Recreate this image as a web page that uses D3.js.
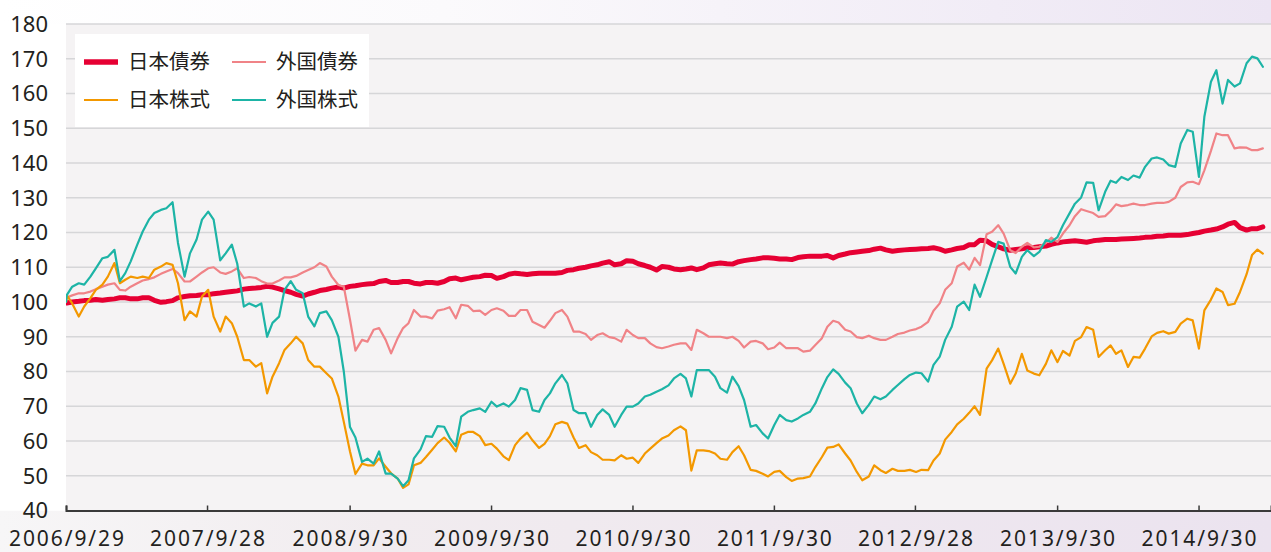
<!DOCTYPE html>
<html>
<head>
<meta charset="utf-8">
<script src="https://cdn.jsdelivr.net/npm/d3@7"></script>
<style>
  html, body { margin: 0; padding: 0; background: #fff; }
  svg { display: block; }
</style>
</head>
<body>
<svg id="chart" width="1271" height="552"></svg>
<script>
// ---------- data ----------
const seriesNames = ["日本債券", "外国債券", "日本株式", "外国株式"];
const startDate = "2006-09-29";
const endDate = "2015-04-03";
const tickLabels = ["2006/9/29", "2007/9/28", "2008/9/30", "2009/9/30", "2010/9/30",
                    "2011/9/30", "2012/9/28", "2013/9/30", "2014/9/30"];
const yTicks = [40, 50, 60, 70, 80, 90, 100, 110, 120, 130, 140, 150, 160, 170, 180];

// semi-monthly observations (start, 15th/1st of each month, end)
const jpBond = [
  100, 99.7, 100, 100.2, 100.4, 100.5,
  100.7, 100.5, 100.7, 100.9, 101.2, 101.2, 100.9, 100.9, 101.2, 101.2, 100.5, 99.9, 100.1, 100.4, 101.2, 101.6, 101.8, 101.9, 102.1, 102.1, 102.4, 102.6, 102.8, 103,
  103.2, 103.7, 103.9, 104, 104.2, 104.5, 104.3, 103.8, 103.3, 102.8, 102.2, 101.7, 102.3, 102.8, 103.3, 103.6, 104, 104.3, 104, 104.5, 104.7, 105, 105.2, 105.3,
  105.9, 106.2, 105.6, 105.6, 105.9, 105.9, 105.4, 105.2, 105.6, 105.6, 105.4, 105.9, 106.7, 106.9, 106.4, 106.8, 107.1, 107.3, 107.7, 107.6, 106.8, 107.3, 108, 108.3,
  108.1, 107.9, 108.1, 108.3, 108.3, 108.3, 108.3, 108.5, 109.1, 109.3, 109.7, 110, 110.4, 110.7, 111.2, 111.6, 110.7, 111, 111.9, 111.7, 111, 110.5, 110, 109.2,
  110.2, 110, 109.5, 109.3, 109.5, 109.8, 109.3, 109.8, 110.7, 111, 111.2, 111, 110.9, 111.6, 111.9, 112.2, 112.4, 112.7, 112.7, 112.6, 112.4, 112.4, 112.2, 112.8,
  113, 113.2, 113.2, 113.2, 113.4, 112.7, 113.4, 113.8, 114.2, 114.4, 114.6, 114.8, 115.2, 115.5, 115, 114.6, 114.8, 115, 115.1, 115.2, 115.3, 115.4, 115.6, 115.2,
  114.6, 115, 115.4, 115.7, 116.5, 116.5, 117.8, 117.6, 116.6, 115.9, 115.3, 114.9, 115.1, 115.3, 115.6, 115.7, 115.9, 116.1, 116.6, 117, 117.3, 117.5, 117.6, 117.4,
  117.2, 117.6, 117.8, 118, 118, 118, 118.1, 118.2, 118.3, 118.4, 118.6, 118.7, 118.9, 119, 119.2, 119.2, 119.2, 119.4, 119.7, 120, 120.4, 120.7, 121, 121.6,
  122.4, 122.9, 121.4, 120.7, 121.1, 121.1, 121.6
];
const frBond = [
  100, 101.3, 101.9, 102.5, 102.5, 103,
  103.7, 104.4, 105, 105.4, 103.5, 103.3, 104.4, 105.4, 106.2, 106.6, 107.1, 108.1, 108.8, 109.5, 108.3, 105.9, 105.9, 107.3, 108.5, 109.7, 110, 108.5, 108.1, 108.8,
  109.7, 106.9, 107.2, 106.9, 106, 105.3, 105.3, 106.2, 107.1, 107.1, 107.5, 108.5, 109.2, 110, 111.2, 110.2, 107.3, 104.9, 104.4, 94.9, 86, 89.1, 88.6, 92,
  92.5, 89.1, 85.2, 89.6, 92.5, 93.9, 97.7, 95.8, 95.8, 95.3, 97.5, 97.9, 98.5, 95.3, 99.2, 98.9, 97.4, 97.5, 96.3, 97.7, 98.2, 97.5, 96, 96,
  97.7, 97.7, 94.3, 93.4, 92.6, 94.6, 96.8, 97.7, 95.8, 91.5, 91.5, 90.8, 89.1, 90.5, 91, 89.9, 89.6, 88.6, 92, 90.5, 89.6, 89.6, 88.1, 87,
  86.7, 87.2, 87.7, 88.1, 88.1, 86.2, 92, 91, 90, 90, 90, 89.6, 90, 88.8, 86.9, 88.6, 88.8, 88.1, 86.4, 86.9, 88.3, 86.7, 86.7, 86.7,
  85.7, 86, 87.6, 89.6, 92.9, 94.6, 94.1, 92, 91.5, 89.9, 89.6, 90.3, 89.6, 89.1, 89.1, 90, 90.8, 91.2, 91.8, 92.2, 92.9, 94.3, 97.5, 99.6,
  103.5, 105.4, 110.2, 111.3, 109.3, 112.7, 110.6, 119.5, 120.2, 122.1, 119.7, 114.9, 114.1, 115.9, 117, 115.7, 115.9, 117, 118.5, 117.3, 119.7, 122.1, 124.7, 126.7,
  126.2, 125.6, 124.5, 124.7, 126.2, 128.1, 127.6, 127.9, 128.3, 127.9, 127.9, 128.3, 128.5, 128.5, 128.8, 130, 133.1, 134.4, 134.6, 133.9, 137.9, 143.5, 148.5, 148,
  148, 144.2, 144.5, 144.4, 143.7, 143.7, 144.2
];
const jpEq = [
  100, 102, 99.6, 95.8, 98.7, 101.1,
  103.5, 105, 107.3, 111.2, 105.4, 106.4, 107.3, 106.9, 107.3, 106.9, 109.3, 110.2, 111.2, 110.7, 105.4, 94.8, 97.3, 95.8, 101.6, 103.5, 95.8, 91.5, 95.8, 93.9,
  90, 83.3, 83.3, 81.4, 82.4, 73.7, 78.5, 82.4, 86.2, 88.1, 90, 88.1, 83.3, 81.4, 81.4, 79.5, 78, 72.8, 65.5, 57, 50.5, 53.5, 53, 53,
  55, 52.6, 50.7, 49.2, 46.5, 47.5, 53, 53.7, 55.4, 57.5, 59.4, 61, 59.5, 57, 61.8, 62.6, 62.6, 61.4, 58.8, 59.2, 57.8, 55.6, 54.5, 58.8,
  60.7, 62.4, 60.2, 58, 59.2, 61.4, 64.8, 65.5, 65, 61, 58, 58.8, 56.8, 55.9, 54.6, 54.6, 54.4, 55.9, 54.9, 55.2, 53.7, 56.4, 57.8, 59.4,
  60.7, 61.6, 63.1, 64.2, 63.1, 51.5, 57.3, 57.3, 57.1, 56.4, 54.9, 54.6, 56.8, 58.5, 55.9, 51.7, 51.4, 50.6, 49.8, 51.1, 51.4, 49.6, 48.5, 49.2,
  49.3, 49.8, 52.5, 55.4, 58.1, 58.3, 59, 56.4, 54.4, 51.1, 48.7, 49.8, 53, 51.6, 50.8, 52, 51.4, 51.4, 51.7, 51.1, 51.7, 51.6, 54.4, 56.4,
  60.4, 62.6, 64.8, 66.4, 68.1, 70, 67.5, 80.8, 83.2, 86.6, 82.2, 76.5, 79.4, 85.1, 80.3, 79.4, 78.9, 82.2, 86.1, 82.7, 85.9, 84.6, 88.8, 89.9,
  92.8, 92, 84.2, 86.1, 87.5, 85.1, 86.1, 81.3, 84.2, 84, 86.6, 90.1, 91.1, 91.6, 90.9, 91.4, 93.8, 95.2, 94.7, 86.6, 97.6, 100.7, 103.9, 102.9,
  99.1, 99.5, 102.9, 108, 113.5, 115.1, 113.9
];
const frEq = [
  100, 102, 104.4, 105.4, 105, 107.3,
  109.7, 112.6, 113, 115, 106, 108.3, 111.7, 116.5, 120.3, 123.7, 125.6, 126.5, 127, 128.7, 117, 107.3, 114, 118, 123.7, 126, 123.7, 112, 114, 116.5,
  111, 98.7, 99.6, 98.7, 99.6, 90, 94, 95.8, 103.5, 106, 103.5, 102.5, 95.8, 93, 96.8, 97.3, 94.8, 90, 80, 64, 61, 54, 54.9, 53.5,
  57, 50.6, 50.6, 49.2, 47, 48.7, 55, 57.6, 61.4, 61.2, 64.3, 64.1, 61, 58.5, 67, 68.4, 68.9, 69.4, 68.4, 71.3, 69.9, 70.8, 69.9, 71.8,
  75.2, 74.7, 68.9, 68.4, 71.8, 73.7, 76.6, 79, 76.6, 68.9, 68, 68, 64.1, 67.5, 69.1, 67.5, 64.1, 67.5, 69.9, 69.9, 70.8, 72.8, 73.3, 74.2,
  74.9, 76, 78, 79.3, 78, 72.8, 80.4, 80.4, 80.4, 78.5, 75.2, 73.9, 78.5, 75.8, 71.8, 64.1, 64.6, 62.2, 60.7, 64.6, 67.5, 66, 65.6, 66.5,
  67.5, 68.4, 70.8, 75.2, 78.4, 80.6, 79.3, 76.8, 75.2, 70.8, 68, 70.4, 72.8, 72, 72.8, 74.7, 76.1, 77.8, 79, 79.7, 79.5, 77.1, 81.9, 84.3,
  89.1, 92.9, 98.7, 100.1, 97.7, 105, 101.5, 107.2, 112, 117.3, 116.8, 110.1, 108.2, 113, 114.9, 113.2, 114.4, 117.8, 117.3, 118.7, 122.1, 125.5, 128.3, 130.1,
  134.4, 134.3, 126.4, 131.7, 134.9, 134.3, 136, 135.1, 136.4, 135.8, 138.9, 141.3, 141.6, 141, 139.4, 138.9, 145.6, 149.5, 149, 136, 153.3, 163.4, 166.7, 157.1,
  163.9, 162, 162.9, 168.7, 170.6, 170.1, 167.7
];

// ---------- dates (observation grid) ----------
const parse = d3.timeParse("%Y-%m-%d");
const dates = [parse(startDate)];
d3.timeMonth.range(new Date(2006, 9, 1), new Date(2015, 3, 1)).forEach(m => {
  const d1 = new Date(m.getFullYear(), m.getMonth(), 1);
  const d15 = new Date(m.getFullYear(), m.getMonth(), 15);
  if (d1 > dates[0]) dates.push(d1);
  dates.push(d15);
});
dates.push(parse(endDate));

const tickDates = tickLabels.map(d3.timeParse("%Y/%m/%d"));

// ---------- layout ----------
const W = 1271, H = 552;
const M = { left: 66, right: 1271, top: 24, bottom: 510.5 };
const svg = d3.select("#chart");

const x = d3.scaleTime().domain([parse(startDate), parse("2015-04-05")]).range([M.left, M.right]);
const y = d3.scaleLinear().domain([40, 180]).range([M.bottom, M.top]);

// background
const defs = svg.append("defs");
const bg = defs.append("linearGradient").attr("id", "bg").attr("x1", 0).attr("x2", 1).attr("y1", 0).attr("y2", 0);
bg.append("stop").attr("offset", "0%").attr("stop-color", "#ffffff");
bg.append("stop").attr("offset", "35%").attr("stop-color", "#fbfafc");
bg.append("stop").attr("offset", "100%").attr("stop-color", "#ece5f3");
const bg2 = defs.append("linearGradient").attr("id", "bg2").attr("x1", 0).attr("x2", 1).attr("y1", 0).attr("y2", 0);
bg2.append("stop").attr("offset", "0%").attr("stop-color", "#f7f6f7");
bg2.append("stop").attr("offset", "30%").attr("stop-color", "#f1ecef");
bg2.append("stop").attr("offset", "60%").attr("stop-color", "#efe8ef");
bg2.append("stop").attr("offset", "100%").attr("stop-color", "#ebe3ef");
defs.append("clipPath").attr("id", "clip").append("rect")
  .attr("x", M.left).attr("y", M.top - 10).attr("width", M.right - M.left).attr("height", M.bottom - M.top + 10);

svg.append("rect").attr("width", W).attr("height", H).attr("fill", "url(#bg)");
svg.append("rect").attr("x", 0).attr("y", M.bottom).attr("width", W).attr("height", H - M.bottom).attr("fill", "url(#bg2)");
svg.append("rect").attr("x", 0).attr("y", M.top).attr("width", M.left).attr("height", M.bottom - M.top).attr("fill", "#ffffff");
svg.append("rect").attr("x", M.left).attr("y", M.top).attr("width", M.right - M.left).attr("height", M.bottom - M.top).attr("fill", "#f5f3f4");

// gridlines
svg.append("g").selectAll("line").data(yTicks.filter(v => v > 40)).join("line")
  .attr("x1", M.left).attr("x2", M.right)
  .attr("y1", d => y(d)).attr("y2", d => y(d))
  .attr("stroke", "#d6d6d8").attr("stroke-width", 1.5);

// y labels
svg.append("g").selectAll("text").data(yTicks).join("text")
  .attr("x", 48).attr("y", d => y(d)).attr("dy", "0.36em")
  .attr("text-anchor", "end")
  .attr("font-family", "'Noto Sans', sans-serif").attr("font-size", 22)
  .attr("fill", "#231f20")
  .text(d => d);

// x axis
const xAxis = d3.axisBottom(x).tickValues(tickDates).tickSize(-5).tickFormat((d, i) => tickLabels[i]);
const gx = svg.append("g").attr("transform", `translate(0,${M.bottom})`).call(xAxis);
gx.select(".domain").attr("stroke", "#3a3a3a").attr("stroke-width", 2);
gx.selectAll(".tick line").attr("stroke", "#3a3a3a").attr("stroke-width", 1.5);
gx.selectAll(".tick text")
  .attr("y", 0).attr("dy", 0).attr("transform", "translate(0,35.5)")
  .attr("font-family", "'Noto Sans', sans-serif").attr("font-size", 21)
  .attr("fill", "#231f20")
  .attr("textLength", 115).attr("lengthAdjust", "spacing");

// lines
const colors = ["#e60033", "#f08387", "#f39800", "#1db4a6"];
const widths = [5, 2.2, 2.2, 2.2];
const allSeries = [jpBond, frBond, jpEq, frEq];
const line = d3.line().x((d, i) => x(dates[i])).y(d => y(d)).curve(d3.curveLinear);
const gl = svg.append("g").attr("clip-path", "url(#clip)");
allSeries.forEach((s, k) => {
  gl.append("path").datum(s)
    .attr("fill", "none")
    .attr("stroke", colors[k]).attr("stroke-width", widths[k])
    .attr("stroke-linejoin", "round").attr("stroke-linecap", "round")
    .attr("d", line);
});

// legend
const lg = svg.append("g");
lg.append("rect").attr("x", 75).attr("y", 34).attr("width", 294).attr("height", 93).attr("fill", "#ffffff");
const legPos = [[84, 62], [232, 62], [84, 100], [232, 100]];
seriesNames.forEach((name, k) => {
  const [lx, ly] = legPos[k];
  lg.append("line").attr("x1", lx).attr("x2", lx + 34).attr("y1", ly).attr("y2", ly)
    .attr("stroke", colors[k]).attr("stroke-width", k === 0 ? 5.5 : 2.2);
  lg.append("text").attr("x", lx + 44).attr("y", ly).attr("dy", "0.36em")
    .attr("font-family", "'Noto Sans CJK JP', sans-serif").attr("font-size", 20.5)
    .attr("fill", "#231f20").text(name);
});
</script>
</body>
</html>
